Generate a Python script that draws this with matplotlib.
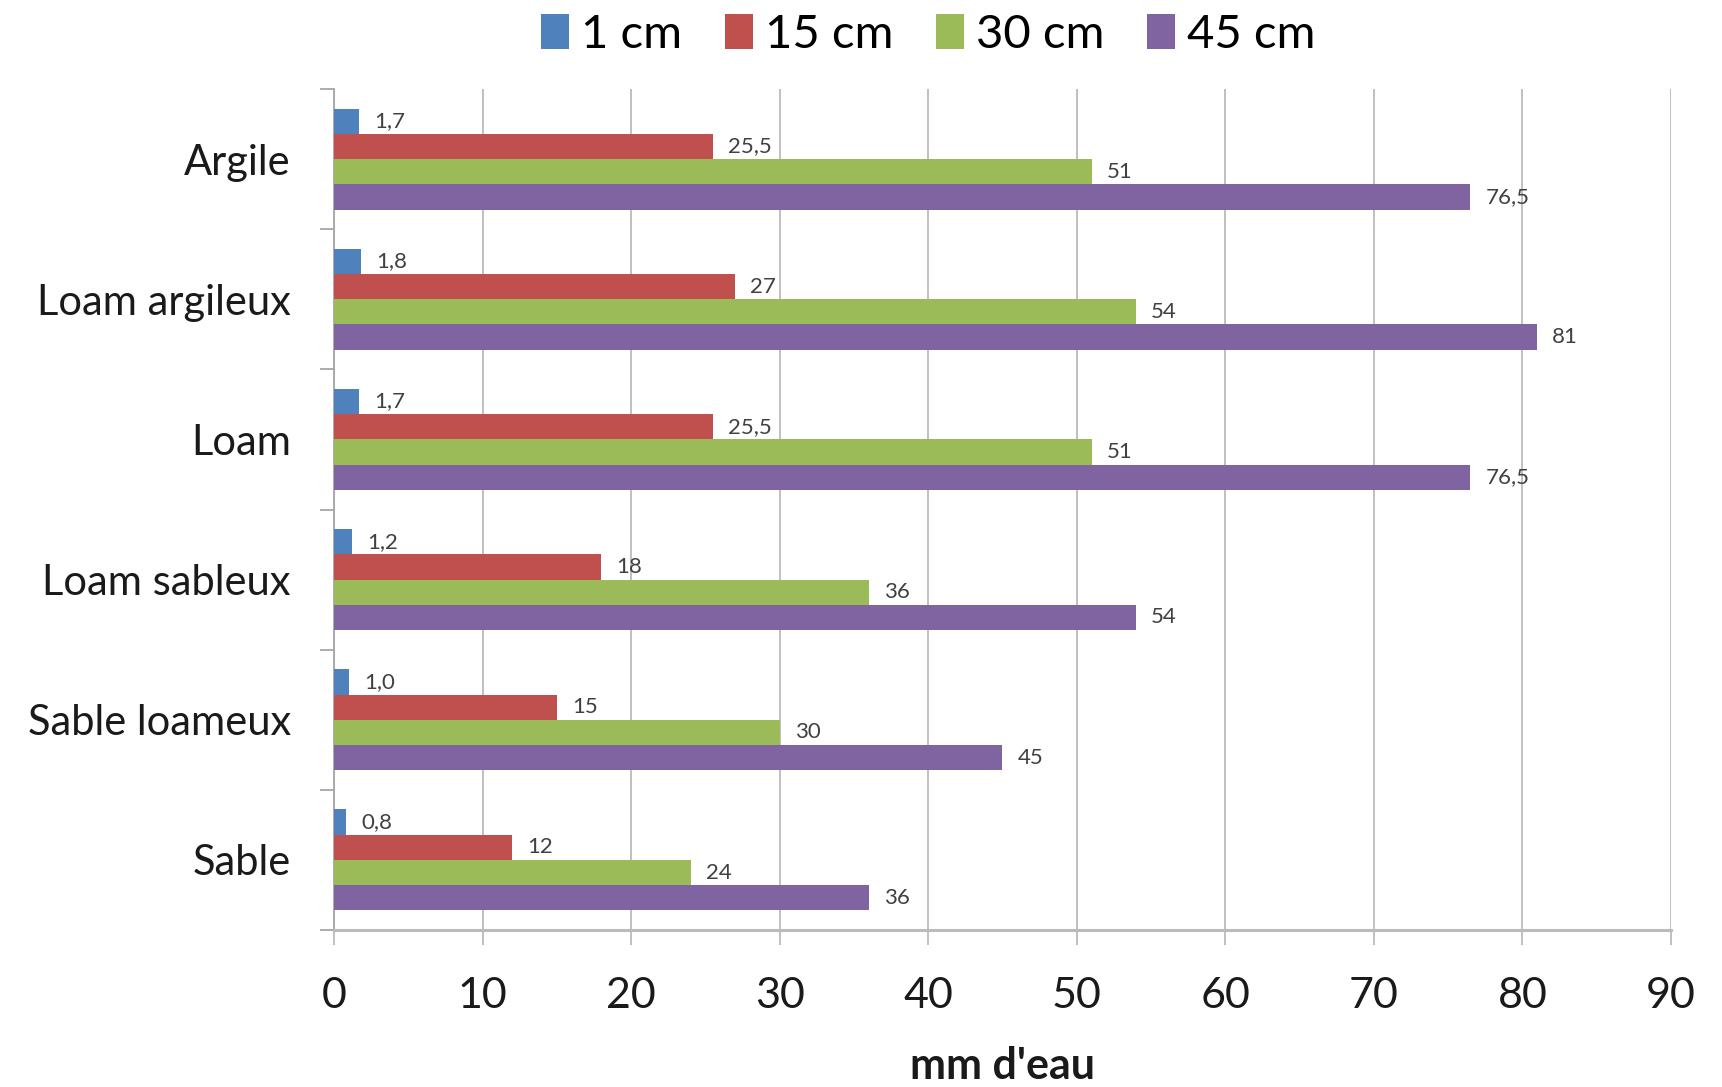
import matplotlib
matplotlib.use("Agg")
import matplotlib.pyplot as plt
from matplotlib.ticker import FixedLocator, NullFormatter, FixedFormatter
from matplotlib.patches import Patch

plt.rcParams['font.family'] = ['Lato', 'DejaVu Sans']

sols = ['Argile', 'Loam argileux', 'Loam', 'Loam sableux', 'Sable loameux', 'Sable']
series = ['1 cm', '15 cm', '30 cm', '45 cm']
v_1cm = [1.7, 1.8, 1.7, 1.2, 1.0, 0.8]
v_15cm = [25.5, 27, 25.5, 18, 15, 12]
v_30cm = [51, 54, 51, 36, 30, 24]
v_45cm = [76.5, 81, 76.5, 54, 45, 36]
xticks = [0, 10, 20, 30, 40, 50, 60, 70, 80, 90]
colors = ['#4F81BD', '#C0504D', '#9BBB59', '#8064A2']

fig = plt.figure(figsize=(17.22, 10.87), dpi=100)
ax = fig.add_axes([0.19396, 0.14443, 0.77642, 0.77369])

h = 0.18
offs = [-1.5 * h, -0.5 * h, 0.5 * h, 1.5 * h]
ypos = list(range(len(sols)))
for k, vals in enumerate([v_1cm, v_15cm, v_30cm, v_45cm]):
    yy = [y + offs[k] for y in ypos]
    ax.barh(yy, vals, height=h, color=colors[k], zorder=3)
    for y, v in zip(yy, vals):
        s = ('%.1f' % v) if k == 0 else ('%g' % v)
        ax.annotate(s.replace('.', ','), (v, y), xytext=(15, 0),
                    textcoords='offset pixels', va='center', ha='left',
                    fontsize=16, color='#404040')

ax.set_xlim(0, 90)
ax.set_ylim(len(sols) - 0.5, -0.5)
ax.set_xticks(xticks)
ax.set_xticklabels([str(t) for t in xticks])
ax.xaxis.grid(True, color='#BBBBBB', linewidth=1.3, zorder=0)
ax.tick_params(axis='x', length=11, width=1.3, color='#BBBBBB', pad=23,
               labelsize=31, labelcolor='#1a1a1a')

ax.yaxis.set_major_locator(FixedLocator([i - 0.5 for i in range(len(sols) + 1)]))
ax.yaxis.set_major_formatter(NullFormatter())
ax.yaxis.set_minor_locator(FixedLocator(ypos))
ax.yaxis.set_minor_formatter(FixedFormatter(sols))
ax.tick_params(axis='y', which='major', length=10, width=1.3, color='#A6A6A6')
ax.tick_params(axis='y', which='minor', length=0, pad=31, labelsize=30,
               labelcolor='#1a1a1a')

for side in ['top', 'right']:
    ax.spines[side].set_visible(False)
ax.spines['left'].set_color('#A6A6A6')
ax.spines['bottom'].set_color('#BBBBBB')
ax.spines['left'].set_linewidth(1.3)
ax.spines['bottom'].set_linewidth(2.2)

ax.set_xlabel("mm d'eau", fontsize=31, fontweight='bold', labelpad=22,
              color='#1a1a1a')

handles = [Patch(facecolor=c) for c in colors]
fig.legend(handles, series, loc='center', bbox_to_anchor=(0.539, 0.968),
           ncol=4, frameon=False, fontsize=34, handlelength=0.6,
           handleheight=0.75, handletextpad=0.25, columnspacing=0.9)

fig.savefig('out.png', dpi=100)
